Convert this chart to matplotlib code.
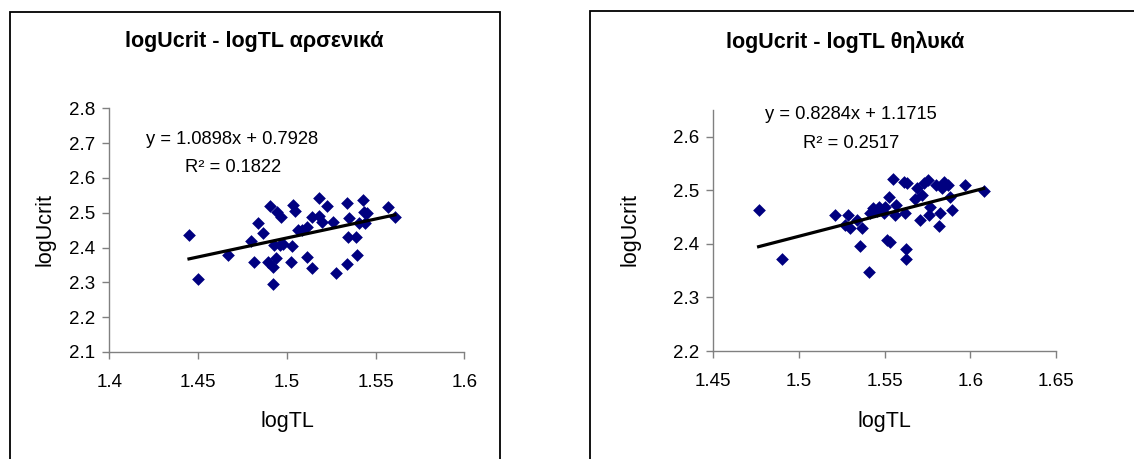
import matplotlib
matplotlib.use("Agg")
import matplotlib.pyplot as plt
from matplotlib.patches import Rectangle
import numpy as np

plt.rcParams['font.family'] = ['Liberation Sans', 'DejaVu Sans']

# Males (αρσενικά)
male_logTL = [1.4449, 1.4500, 1.4669, 1.4800, 1.4817, 1.4838, 1.4868, 1.4905, 1.4896,
              1.4924, 1.4939, 1.4924, 1.4943, 1.4965, 1.4928, 1.4962, 1.4980, 1.5033,
              1.5046, 1.5023, 1.5031, 1.5061, 1.5084, 1.5112, 1.5115, 1.5140, 1.5144,
              1.5181, 1.5183, 1.5196, 1.5228, 1.5262, 1.5277, 1.5337, 1.5352, 1.5346,
              1.5390, 1.5341, 1.5393, 1.5408, 1.5431, 1.5435, 1.5440, 1.5454, 1.5572,
              1.5609]
male_logUcrit = [2.436, 2.310, 2.379, 2.418, 2.358, 2.470, 2.441, 2.520, 2.358,
                 2.345, 2.369, 2.295, 2.503, 2.489, 2.407, 2.407, 2.409, 2.522,
                 2.506, 2.358, 2.404, 2.450, 2.450, 2.460, 2.374, 2.489, 2.342,
                 2.541, 2.491, 2.474, 2.520, 2.474, 2.326, 2.527, 2.484, 2.431,
                 2.431, 2.352, 2.379, 2.471, 2.536, 2.503, 2.471, 2.498, 2.516,
                 2.489]
male_slope, male_intercept, male_r2 = 1.0898, 0.7928, 0.1822

# Females (θηλυκά)
female_logTL = [1.4766, 1.4902, 1.5209, 1.5287, 1.5272, 1.5301, 1.5340, 1.5369, 1.5359,
                1.5408, 1.5417, 1.5433, 1.5466, 1.5495, 1.5505, 1.5524, 1.5515, 1.5530,
                1.5550, 1.5569, 1.5563, 1.5612, 1.5631, 1.5621, 1.5627, 1.5627, 1.5680,
                1.5690, 1.5705, 1.5719, 1.5728, 1.5752, 1.5767, 1.5758, 1.5816, 1.5822,
                1.5836, 1.5845, 1.5868, 1.5884, 1.5894, 1.5971, 1.6078, 1.5802, 1.5456]
female_logUcrit = [2.464, 2.372, 2.454, 2.454, 2.435, 2.429, 2.445, 2.429, 2.396,
                   2.348, 2.457, 2.466, 2.469, 2.457, 2.469, 2.488, 2.407, 2.404,
                   2.521, 2.472, 2.454, 2.515, 2.513, 2.457, 2.390, 2.372, 2.484,
                   2.504, 2.444, 2.491, 2.513, 2.519, 2.469, 2.454, 2.434, 2.457,
                   2.504, 2.516, 2.510, 2.487, 2.464, 2.510, 2.499, 2.510, 2.462]
female_slope, female_intercept, female_r2 = 0.8284, 1.1715, 0.2517

W, H = 1134, 459
fig = plt.figure(figsize=(W / 100, H / 100), dpi=100)

# chart frames (extend past the lower / right edge of the page)
fig.add_artist(Rectangle((10 / W, -0.1), (500 - 10) / W, 1.1 - 11.7 / H,
                         transform=fig.transFigure, fill=False, edgecolor='black',
                         linewidth=1.3, clip_on=False))
fig.add_artist(Rectangle((590 / W, -0.1), 0.5, 1.1 - 11 / H,
                         transform=fig.transFigure, fill=False, edgecolor='black',
                         linewidth=1.3, clip_on=False))


def panel(rect, x, y, slope, intercept, r2, xlim, xticks, ylim, yticks, title,
          title_xy, eq_xy, r2_xy, ylab_xy, xlab_xy):
    ax = fig.add_axes(rect)
    ax.scatter(x, y, marker='D', s=42, color='#000080', linewidths=0, zorder=3)
    xs = np.array([min(x), max(x)])
    ax.plot(xs, slope * xs + intercept, color='black', linewidth=2.3, zorder=4)
    ax.set_xlim(*xlim)
    ax.set_ylim(*ylim)
    ax.set_xticks(xticks)
    ax.set_yticks(yticks)
    ax.set_xticklabels([f"{v:g}" for v in xticks])
    ax.set_yticklabels([f"{v:g}" for v in yticks])
    for s in ('top', 'right'):
        ax.spines[s].set_visible(False)
    for s in ('left', 'bottom'):
        ax.spines[s].set_color('#808080')
        ax.spines[s].set_linewidth(1.0)
    ax.tick_params(direction='out', length=5, width=1.0, color='#808080',
                   labelsize=13.5)
    ax.tick_params(axis='x', pad=11)
    ax.tick_params(axis='y', pad=5)
    ax.patch.set_visible(False)
    fig.text(title_xy[0] / W, 1 - title_xy[1] / H, title, ha='center', va='center',
             fontsize=15.5, fontweight='bold')
    fig.text(eq_xy[0] / W, 1 - eq_xy[1] / H,
             f"y = {slope:.4f}x + {intercept:.4f}", ha='center', va='center',
             fontsize=13.2)
    fig.text(r2_xy[0] / W, 1 - r2_xy[1] / H, f"R² = {r2:.4f}", ha='center',
             va='center', fontsize=13.2)
    fig.text(ylab_xy[0] / W, 1 - ylab_xy[1] / H, "logUcrit", ha='center',
             va='center', rotation=90, fontsize=15.5)
    fig.text(xlab_xy[0] / W, 1 - xlab_xy[1] / H, "logTL", ha='center',
             va='center', fontsize=15.5)
    return ax


panel([109.3 / W, 1 - 352 / H, (464.3 - 109.3) / W, (352 - 108.3) / H],
      male_logTL, male_logUcrit, male_slope, male_intercept, male_r2,
      (1.4, 1.6), [1.4, 1.45, 1.5, 1.55, 1.6],
      (2.1, 2.8), [2.1, 2.2, 2.3, 2.4, 2.5, 2.6, 2.7, 2.8],
      "logUcrit - logTL αρσενικά", (254.5, 41.7), (232.5, 140), (233, 167),
      (45, 230), (287, 422))

panel([713 / W, 1 - 351 / H, (1056 - 713) / W, (351 - 109.9) / H],
      female_logTL, female_logUcrit, female_slope, female_intercept, female_r2,
      (1.45, 1.65), [1.45, 1.5, 1.55, 1.6, 1.65],
      (2.2, 2.65), [2.2, 2.3, 2.4, 2.5, 2.6],
      "logUcrit - logTL θηλυκά", (845, 42), (851, 115), (851.5, 143),
      (630, 230), (884, 422))

fig.savefig("out.png", dpi=100)
